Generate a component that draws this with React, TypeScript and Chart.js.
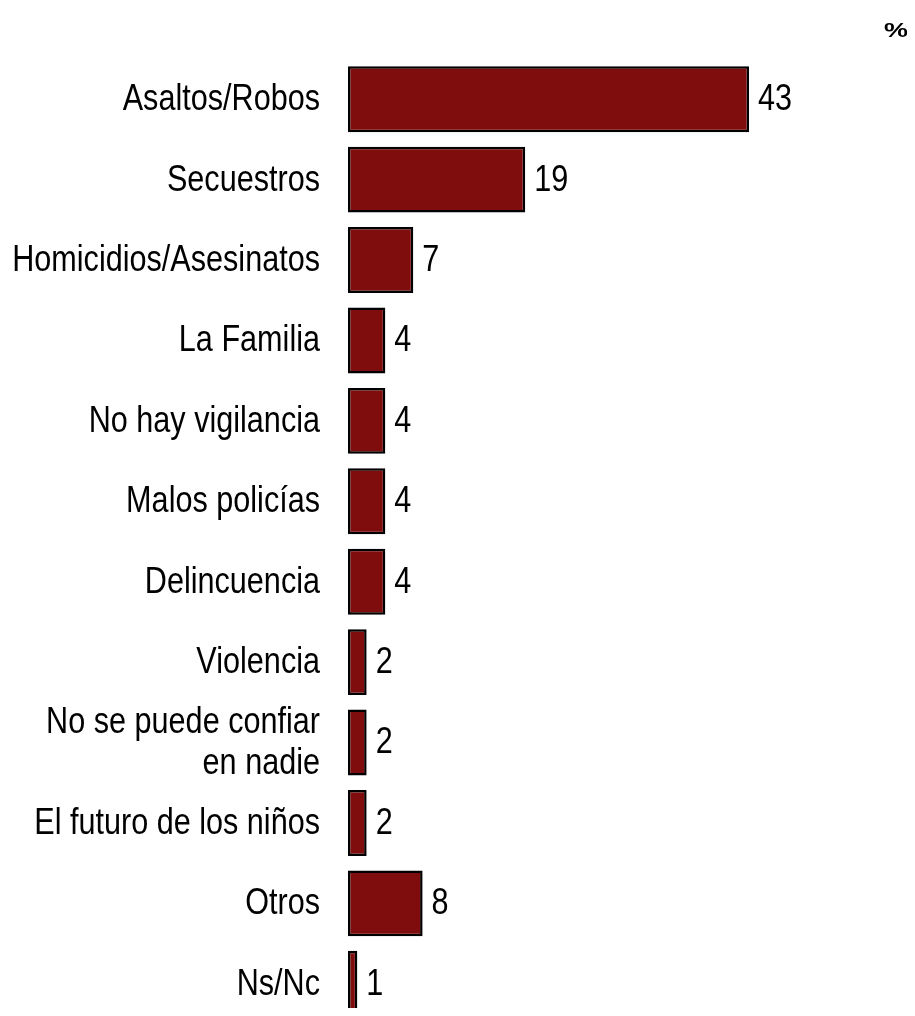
import React, { useEffect, useRef } from "react";
import { Chart, registerables } from "chart.js";

Chart.register(...registerables);

const categories: (string | string[])[] = [
  "Asaltos/Robos",
  "Secuestros",
  "Homicidios/Asesinatos",
  "La Familia",
  "No hay vigilancia",
  "Malos policías",
  "Delincuencia",
  "Violencia",
  ["No se puede confiar", "en nadie"],
  "El futuro de los niños",
  "Otros",
  "Ns/Nc",
];
const values: number[] = [43, 19, 7, 4, 4, 4, 4, 2, 2, 2, 8, 1];
const unitLabel = "%";

const FONT = "'Liberation Sans', Arial, sans-serif";
const NARROW = 0.85;

export default function App() {
  const ref = useRef<HTMLCanvasElement | null>(null);
  useEffect(() => {
    if (!ref.current) return;
    const textPlugin = {
      id: "textLabels",
      afterDatasetsDraw(chart: any) {
        const ctx = chart.ctx;
        const meta = chart.getDatasetMeta(0);
        const yScale = chart.scales.y;
        const left = chart.chartArea.left;
        ctx.save();
        ctx.fillStyle = "#000";
        ctx.font = `36px ${FONT}`;
        ctx.textBaseline = "middle";
        categories.forEach((lab, i) => {
          const y = yScale.getPixelForValue(i);
          const lines = Array.isArray(lab) ? lab : [lab];
          const lh = 41;
          const startY = y - ((lines.length - 1) * lh) / 2;
          lines.forEach((line, j) => {
            const w = ctx.measureText(line).width * NARROW;
            const cx = left - 28 - w / 2;
            ctx.save();
            ctx.translate(cx, startY + j * lh + 1);
            ctx.scale(NARROW, 1);
            ctx.textAlign = "center";
            ctx.fillText(line, 0, 0);
            ctx.restore();
          });
        });
        meta.data.forEach((bar: any, i: number) => {
          ctx.save();
          ctx.translate(bar.x + 9, bar.y + 1);
          ctx.scale(NARROW, 1);
          ctx.textAlign = "left";
          ctx.fillText(String(values[i]), 0, 0);
          ctx.restore();
        });
        ctx.save();
        ctx.translate(888, 23);
        ctx.scale(1.35, 1);
        ctx.font = `bold 20px ${FONT}`;
        ctx.textAlign = "center";
        ctx.fillText(unitLabel, 0, 0);
        ctx.restore();
        ctx.restore();
      },
    };
    const chart = new Chart(ref.current, {
      type: "bar",
      data: {
        labels: categories,
        datasets: [
          {
            data: values,
            backgroundColor: "#800d0d",
            borderColor: "#000000",
            borderWidth: 2.5,
            borderSkipped: false,
            barPercentage: 0.82,
            categoryPercentage: 1,
          },
        ],
      },
      options: {
        indexAxis: "y",
        animation: false,
        responsive: false,
        maintainAspectRatio: false,
        layout: { padding: { top: 51, right: 46, bottom: 0, left: 340 } },
        plugins: { legend: { display: false }, tooltip: { enabled: false } },
        scales: {
          x: { display: false, min: 0, max: 55 },
          y: { display: false },
        },
      },
      plugins: [textPlugin],
    });
    return () => chart.destroy();
  }, []);
  return (
    <div style={{ height: 1008, overflow: "hidden", marginBottom: -8 }}>
      <canvas ref={ref} width={899} height={1016} style={{ display: "block" }} />
    </div>
  );
}
